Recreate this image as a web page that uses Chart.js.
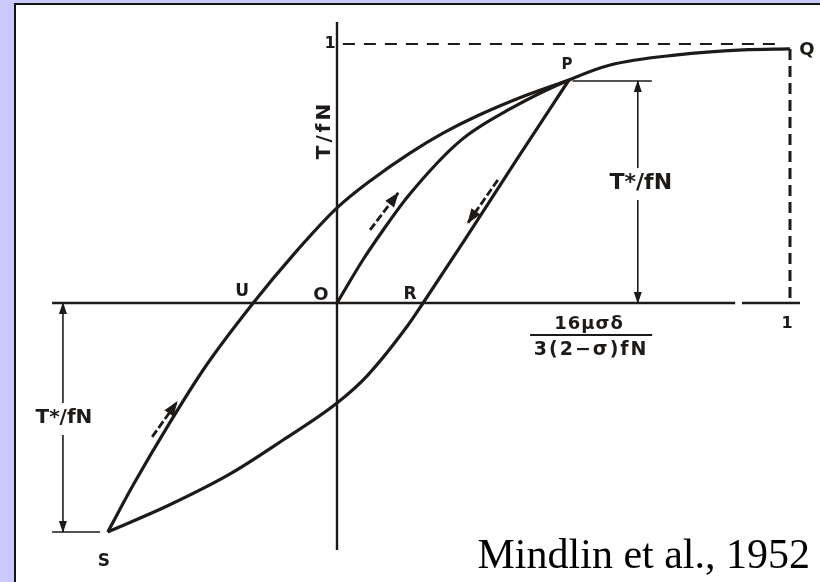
<!DOCTYPE html>
<html>
<head>
<meta charset="utf-8">
<title>Mindlin hysteresis loop</title>
<script src="https://cdn.jsdelivr.net/npm/chart.js@4.4.1/dist/chart.umd.min.js"></script>
<style>
  html, body { margin: 0; padding: 0; background: #c9c9fb; overflow: hidden; }
  #frame { position: absolute; left: 14px; top: 3px; width: 806px; height: 579px; background: #fff;
           border-left: 2px solid #141414; border-top: 2px solid #141414; box-sizing: border-box; }
  #chart { position: absolute; left: 0; top: 0; }
</style>
</head>
<body>
<div id="frame"></div>
<canvas id="chart" width="820" height="582"></canvas>
<script>
// ---------- DATA (displacement ratio vs T/fN) ----------
// first loading O -> P -> Q
const loadX = [0, 0.057, 0.102, 0.159, 0.272, 0.386, 0.512, 0.603, 0.751, 0.896, 1.0];
const loadY = [0, 0.166, 0.282, 0.417, 0.626, 0.753, 0.861, 0.919, 0.958, 0.977, 0.981];
// unloading P -> R -> S (stored left to right)
const unloadX = [-0.506, -0.375, -0.236, -0.119, 0, 0.066, 0.157, 0.190, 0.283, 0.393, 0.512];
const unloadY = [-0.884, -0.784, -0.660, -0.529, -0.386, -0.282, -0.085, 0, 0.247, 0.544, 0.861];
// reloading S -> U -> P
const reloadX = [-0.506, -0.450, -0.375, -0.291, -0.185, -0.097, 0, 0.079, 0.161, 0.234, 0.309, 0.419, 0.512];
const reloadY = [-0.884, -0.703, -0.479, -0.247, 0, 0.185, 0.367, 0.479, 0.579, 0.656, 0.722, 0.803, 0.861];

// tick labels on each axis
const xTicks = [1];
const yTicks = [1];

// small direction arrows beside the curves: [x0, y0, x1, y1]
const flowArrows = [
  [0.073, 0.282, 0.135, 0.425],
  [0.355, 0.475, 0.289, 0.309],
  [-0.408, -0.517, -0.353, -0.382]
];

const P = { x: loadX[6], y: loadY[6] };
const Q = { x: loadX[10], y: loadY[10] };
const S = { x: reloadX[0], y: reloadY[0] };
const uCross = reloadX[4];
const rCross = unloadX[7];

// ---------- LAYOUT ----------
const origin = { x: 337, y: 303 };   // pixel position of O
const unit = { x: 453, y: 259 };     // pixels per unit
const W = 820, H = 582;
const inkColor = '#1d1a18';
const letterFont = '"DejaVu Sans", sans-serif';

const pts = (xs, ys) => xs.map((v, i) => ({ x: v, y: ys[i] }));

function line(data, width, extra) {
  return Object.assign({
    data: data,
    showLine: true,
    borderColor: inkColor,
    borderWidth: width,
    pointRadius: 0,
    tension: 0,
    fill: false
  }, extra || {});
}

const dimRightX = 0.664;
const dimLeftX = -0.605;

const datasets = [
  // axes
  line([{ x: -0.629, y: 0 }, { x: 0.879, y: 0 }], 2.4),
  line([{ x: 0.894, y: 0 }, { x: 1.022, y: 0 }], 2.4),
  line([{ x: 0, y: -0.954 }, { x: 0, y: 1.085 }], 2.4),
  // dashed guides to Q
  line([{ x: 0.013, y: yTicks[0] }, { x: 0.98, y: yTicks[0] }], 2, { borderDash: [12, 9] }),
  line([{ x: xTicks[0], y: Q.y }, { x: xTicks[0], y: 0 }], 3, { borderDash: [11, 6] }),
  // curves
  line(pts(loadX, loadY), 3.2, { cubicInterpolationMode: 'monotone' }),
  line(pts(reloadX, reloadY), 3.2, { cubicInterpolationMode: 'monotone' }),
  line(pts(unloadX, unloadY), 3.2, { cubicInterpolationMode: 'monotone' }),
  // dimension T*/fN on the right
  line([{ x: P.x + 0.008, y: P.y - 0.004 }, { x: 0.695, y: P.y - 0.004 }], 1.6),
  line([{ x: dimRightX, y: 0.521 }, { x: dimRightX, y: P.y - 0.004 }], 1.6, { head: [11, 4] }),
  line([{ x: dimRightX, y: 0.398 }, { x: dimRightX, y: 0 }], 1.6, { head: [11, 4] }),
  // dimension T*/fN on the left
  line([{ x: dimLeftX, y: -0.386 }, { x: dimLeftX, y: 0 }], 1.6, { head: [11, 4] }),
  line([{ x: dimLeftX, y: -0.510 }, { x: dimLeftX, y: S.y }], 1.6, { head: [11, 4] }),
  line([{ x: -0.629, y: S.y }, { x: -0.523, y: S.y }], 1.6)
];

flowArrows.forEach(a => {
  datasets.push(line([{ x: a[0], y: a[1] }, { x: a[2], y: a[3] }], 2.8,
    { borderDash: [8, 3], head: [14, 5.5] }));
});

// ---------- PLUGINS ----------
function drawHead(ctx, tip, from, len, half) {
  const a = Math.atan2(tip.y - from.y, tip.x - from.x);
  ctx.save();
  ctx.translate(tip.x, tip.y);
  ctx.rotate(a);
  ctx.beginPath();
  ctx.moveTo(1, 0);
  ctx.lineTo(-len, -half);
  ctx.lineTo(-len, half);
  ctx.closePath();
  ctx.fill();
  ctx.restore();
}

const arrowHeads = {
  id: 'arrowHeads',
  afterDatasetsDraw(chart) {
    const ctx = chart.ctx;
    ctx.save();
    ctx.fillStyle = inkColor;
    chart.data.datasets.forEach((ds, i) => {
      if (!ds.head) return;
      const p = chart.getDatasetMeta(i).data;
      drawHead(ctx, p[p.length - 1], p[p.length - 2], ds.head[0], ds.head[1]);
    });
    ctx.restore();
  }
};

const letters = {
  id: 'letters',
  afterDatasetsDraw(chart) {
    const ctx = chart.ctx;
    const px = v => chart.scales.x.getPixelForValue(v);
    const py = v => chart.scales.y.getPixelForValue(v);

    function put(text, x, y, size, spacing) {
      ctx.font = 'bold ' + size + 'px ' + letterFont;
      ctx.letterSpacing = (spacing || 0) + 'px';
      ctx.fillText(text, x, y);
    }

    ctx.save();
    ctx.fillStyle = inkColor;
    ctx.textAlign = 'center';
    ctx.textBaseline = 'middle';

    put('P', px(P.x) - 2, py(P.y) - 15, 15);
    put('Q', px(Q.x) + 17, py(Q.y) + 1, 18);
    put('U', px(uCross) - 11, py(0) - 11, 17);
    put('O', px(0) - 16, py(0) - 8, 18);
    put('R', px(rCross) - 13, py(0) - 8, 17);
    put('S', px(S.x) - 4, py(S.y) + 30, 17);

    yTicks.forEach(t => put(String(t), px(0) - 7, py(t), 16));
    xTicks.forEach(t => put(String(t), px(t) - 3, py(0) + 21, 16));

    put('T*/fN', px(dimRightX) + 3, py(0.463), 22);
    put('T*/fN', px(dimLeftX) + 1, py(-0.444), 20);

    // axis title, reading upwards
    ctx.save();
    ctx.translate(px(0) - 12, py(0.668));
    ctx.rotate(-Math.PI / 2);
    put('T/fN', 0, 0, 20, 3);
    ctx.restore();

    // displacement scale as a fraction under the axis
    const fx = px(0.561), fy = py(0);
    put('16\u03bc\u03c3\u03b4', fx - 2, fy + 21, 18, 1);
    ctx.fillRect(fx - 61, fy + 31, 122, 2);
    put('3(2\u2212\u03c3)fN', fx, fy + 47, 19, 2);

    // citation
    ctx.letterSpacing = '0px';
    ctx.font = '42px "Liberation Serif", "Times New Roman", serif';
    ctx.fillStyle = '#000';
    ctx.textAlign = 'right';
    ctx.textBaseline = 'alphabetic';
    ctx.fillText('Mindlin et al., 1952', chart.chartArea.right - 10, chart.chartArea.bottom - 14);
    ctx.restore();
  }
};

// ---------- CHART ----------
new Chart(document.getElementById('chart'), {
  type: 'scatter',
  data: { datasets: datasets },
  options: {
    responsive: false,
    animation: false,
    events: [],
    layout: { padding: 0 },
    plugins: { legend: { display: false }, tooltip: { enabled: false } },
    scales: {
      x: { type: 'linear', display: false, min: -origin.x / unit.x, max: (W - origin.x) / unit.x },
      y: { type: 'linear', display: false, min: (origin.y - H) / unit.y, max: origin.y / unit.y }
    }
  },
  plugins: [arrowHeads, letters]
});
</script>
</body>
</html>
